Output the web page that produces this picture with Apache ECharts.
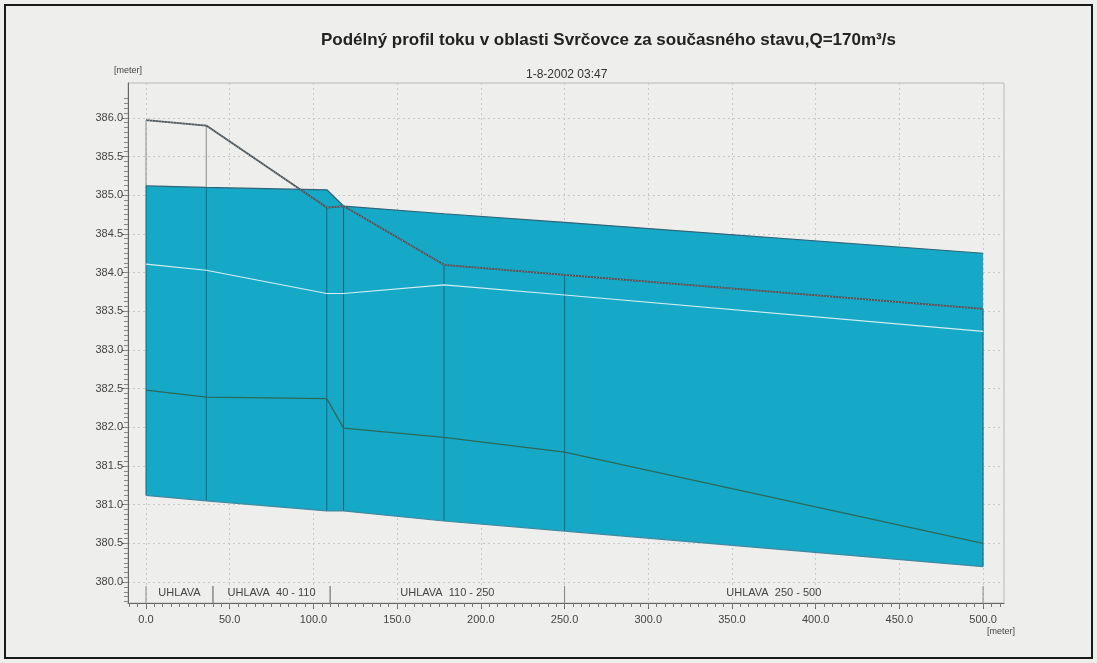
<!DOCTYPE html>
<html>
<head>
<meta charset="utf-8">
<title>Podélný profil toku</title>
<script src="https://cdn.jsdelivr.net/npm/echarts@6/dist/echarts.min.js"></script>
<style>
  html, body { margin: 0; padding: 0; background: #eeeeec; }
  #chart { width: 1097px; height: 663px; }
</style>
</head>
<body>
<div id="chart"></div>
<script>
// staničení příčných profilů [m]
const chainage = [0, 36, 108, 118, 178, 250, 500]
// úrovně [m n.m.]
const waterLevel = [385.12, 385.10, 385.07, 384.86, 384.76, 384.65, 384.25]
const bedLevel = [381.12, 381.05, 380.92, 380.92, 380.79, 380.66, 380.20]
const leftBank = [385.97, 385.90, 384.84, 384.86, 384.10, 383.97, 383.53]
const rightBank = [384.11, 384.03, 383.73, 383.73, 383.84, 383.71, 383.24]
const greenLevel = [382.48, 382.39, 382.37, 381.99, 381.87, 381.68, 380.50]

// úseky toku
const reachNames = ['UHLAVA', 'UHLAVA  40 - 110', 'UHLAVA  110 - 250', 'UHLAVA  250 - 500']
const reachFrom = [0, 40, 110, 250]
const reachTo = [40, 110, 250, 500]

const xTicks = [0, 50, 100, 150, 200, 250, 300, 350, 400, 450, 500]
const yTicks = [380.0, 380.5, 381.0, 381.5, 382.0, 382.5, 383.0, 383.5, 384.0, 384.5, 385.0, 385.5, 386.0]

const X_MIN = -10.75, X_MAX = 512.5
const Y_MIN = 379.73, Y_MAX = 386.45

const minorX = []
for (let v = -10; v <= 510; v += 5) minorX.push(v)
const minorY = []
for (let k = 0; k <= 104; k++) minorY.push(379.75 + k * 0.0625)

const FONT = '"Liberation Sans", Arial, sans-serif'
const pts = arr => chainage.map((x, i) => [x, arr[i]])

const chart = echarts.init(document.getElementById('chart'))

chart.setOption({
  backgroundColor: '#eeeeec',
  animation: false,
  title: [
    {
      text: 'Podélný profil toku v oblasti Svrčovce za současného stavu,Q=170m³/s',
      left: 316, top: 27,
      textStyle: { fontFamily: FONT, fontSize: 17, fontWeight: 'bold', color: '#222' }
    },
    {
      text: '1-8-2002 03:47',
      left: 521, top: 64,
      textStyle: { fontFamily: FONT, fontSize: 12, fontWeight: 'normal', color: '#333' }
    }
  ],
  graphic: [
    { type: 'rect', shape: { x: 5, y: 5, width: 1087, height: 653 }, style: { fill: 'none', stroke: '#1a1a1a', lineWidth: 2 } },
    { type: 'text', left: 987, top: 627, style: { text: '[meter]', fontFamily: FONT, fontSize: 9, fill: '#444' } }
  ],
  grid: {
    left: 128, right: 93, top: 83, bottom: 60,
    show: true, borderColor: '#b8b8b8', borderWidth: 1, backgroundColor: 'transparent'
  },
  xAxis: [
    {
      type: 'value', min: X_MIN, max: X_MAX, position: 'bottom',
      axisLine: { show: true, onZero: false, lineStyle: { color: '#666' } },
      axisTick: { show: true, length: 6, customValues: xTicks, lineStyle: { color: '#666' } },
      axisLabel: { customValues: xTicks, formatter: v => v.toFixed(1), fontFamily: FONT, fontSize: 11, color: '#444', margin: 11 },
      splitLine: { show: true, lineStyle: { color: '#c9c9c9', type: [2, 3] } }
    },
    {
      type: 'value', min: X_MIN, max: X_MAX, position: 'bottom',
      axisLine: { show: false, onZero: false },
      axisTick: { show: true, length: 4, customValues: minorX, lineStyle: { color: '#777' } },
      axisLabel: { show: false },
      splitLine: { show: false }
    }
  ],
  yAxis: [
    {
      type: 'value', min: Y_MIN, max: Y_MAX, position: 'left',
      name: '[meter]', nameLocation: 'end', nameGap: 8,
      nameTextStyle: { fontFamily: FONT, fontSize: 9, color: '#444' },
      axisLine: { show: true, onZero: false, lineStyle: { color: '#666' } },
      axisTick: { show: true, length: 6, customValues: yTicks, lineStyle: { color: '#666' } },
      axisLabel: { customValues: yTicks, formatter: v => v.toFixed(1), fontFamily: FONT, fontSize: 11, color: '#444', margin: 5 },
      splitLine: { show: true, lineStyle: { color: '#c9c9c9', type: [2, 3] } }
    },
    {
      type: 'value', min: Y_MIN, max: Y_MAX, position: 'left',
      axisLine: { show: false, onZero: false },
      axisTick: { show: true, length: 4, customValues: minorY, lineStyle: { color: '#888' } },
      axisLabel: { show: false },
      splitLine: { show: false }
    }
  ],
  series: [
    {
      // vodní těleso mezi dnem a hladinou
      name: 'voda', type: 'custom', z: 1,
      data: [[0, 0]],
      renderItem: (params, api) => {
        const top = chainage.map((x, i) => api.coord([x, waterLevel[i]]))
        const bottom = chainage.map((x, i) => api.coord([x, bedLevel[i]])).reverse()
        return { type: 'polygon', shape: { points: top.concat(bottom) }, style: { fill: '#15a8c7' } }
      }
    },
    {
      // svislice příčných profilů
      name: 'profily', type: 'custom', z: 3,
      data: chainage.map((x, i) => [x, bedLevel[i]]),
      encode: { x: 0, y: 1 },
      renderItem: (params, api) => {
        const i = params.dataIndex
        const x = chainage[i]
        const pBed = api.coord([x, bedLevel[i]])
        const pWet = api.coord([x, Math.min(leftBank[i], waterLevel[i])])
        const pTop = api.coord([x, leftBank[i]])
        const children = [{ type: 'line', shape: { x1: pBed[0], y1: pBed[1], x2: pWet[0], y2: pWet[1] }, style: { stroke: '#1f6378', lineWidth: 1 } }]
        if (leftBank[i] > waterLevel[i]) {
          children.push({ type: 'line', shape: { x1: pWet[0], y1: pWet[1], x2: pTop[0], y2: pTop[1] }, style: { stroke: '#8c8c8c', lineWidth: 1 } })
        }
        return { type: 'group', children }
      }
    },
    {
      name: 'hladina', type: 'line', data: pts(waterLevel), symbol: 'none', z: 4,
      lineStyle: { color: '#2e6478', width: 1.2 }
    },
    {
      name: 'dno', type: 'line', data: pts(bedLevel), symbol: 'none', z: 4,
      lineStyle: { color: '#3f8aa0', width: 1.2 }
    },
    {
      name: 'levý břeh', type: 'line', data: pts(leftBank), symbol: 'none', z: 5,
      lineStyle: { color: '#4a5459', width: 1.8 }
    },
    {
      name: 'levý břeh tečky', type: 'line', data: pts(leftBank), symbol: 'none', z: 6,
      lineStyle: { color: 'rgba(255,255,255,0.55)', width: 0.8, type: [1, 2] }
    },
    {
      name: 'pravý břeh', type: 'line', data: pts(rightBank), symbol: 'none', z: 5,
      lineStyle: { color: '#d6eef3', width: 1.2 }
    },
    {
      name: 'zelená čára', type: 'line', data: pts(greenLevel), symbol: 'none', z: 5,
      lineStyle: { color: '#2b6a58', width: 1.3 }
    },
    {
      // popisky úseků toku nad osou x
      name: 'úseky', type: 'custom', z: 7,
      data: reachFrom.map((f, i) => [f, reachTo[i]]),
      encode: { x: [0, 1] },
      renderItem: (params, api) => {
        const i = params.dataIndex
        const a = api.coord([reachFrom[i], Y_MIN])
        const b = api.coord([reachTo[i], Y_MIN])
        const tick = p => ({ type: 'line', shape: { x1: p[0], y1: p[1] - 17, x2: p[0], y2: p[1] }, style: { stroke: '#8a8a8a', lineWidth: 1 } })
        return {
          type: 'group',
          children: [
            tick(a), tick(b),
            { type: 'text', x: (a[0] + b[0]) / 2, y: a[1] - 10, style: { text: reachNames[i], align: 'center', verticalAlign: 'middle', fontFamily: FONT, fontSize: 11, fill: '#444' } }
          ]
        }
      }
    }
  ]
})

window.addEventListener('resize', () => chart.resize())
</script>
</body>
</html>
